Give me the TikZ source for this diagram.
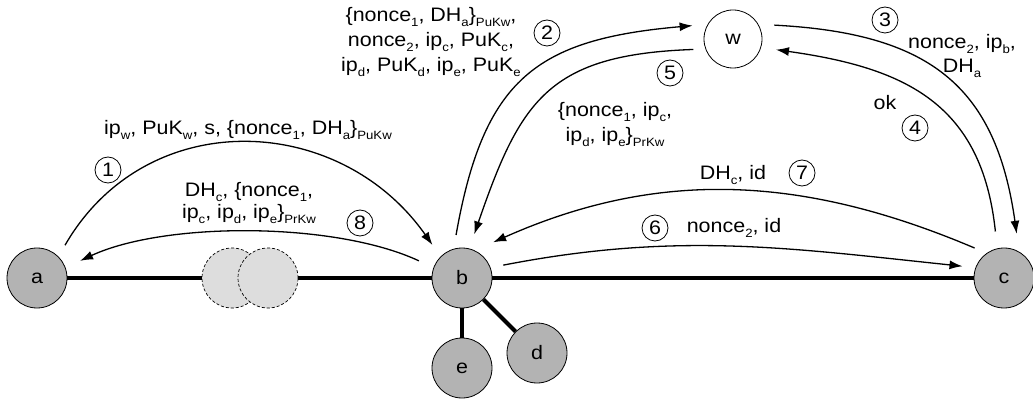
\documentclass[tikz,border=0pt]{standalone}
\usepackage{fontspec}
\setmainfont{Liberation Sans}[FakeStretch=1.1]
\usetikzlibrary{arrows.meta,backgrounds}
\definecolor{nodegray}{RGB}{179,179,179}
\definecolor{ghostgray}{RGB}{221,221,221}
\newcommand{\sbs}[1]{\raisebox{-5pt}{\fontsize{12}{12}\selectfont #1}}
\newcommand{\lines}[1]{\begin{tabular}[t]{@{}c@{}}#1\end{tabular}}
\begin{document}
\begin{tikzpicture}[x=1pt,y=1pt,
  every node/.style={font=\fontsize{19.5}{24}\selectfont},
  host/.style={circle,draw,line width=0.8pt,fill=nodegray,minimum size=60pt,inner sep=0pt},
  ghost/.style={circle,draw,dash pattern=on 3pt off 2pt,line width=0.7pt,fill=ghostgray,minimum size=60pt,inner sep=0pt},
  server/.style={circle,draw,line width=0.8pt,fill=white,minimum size=58pt,inner sep=0pt},
  num/.style={circle,draw,line width=0.8pt,minimum size=26pt,inner sep=0pt},
  lbl/.style={anchor=base,inner sep=0pt},
  link/.style={line width=4pt},
  msg/.style={line width=1.3pt,-{Latex[length=13pt,width=9pt]}},
]
\useasboundingbox (0,0) rectangle (1033,-403);
% hosts
\node[host] (a) at (37,-278) {a};
\node[ghost] (g1) at (232,-278) {};
\node[ghost] (g2) at (268,-278) {};
\node[host] (b) at (462,-278) {b};
\node[host] (c) at (1004,-278) {c};
\node[host] (d) at (537,-353) {d};
\node[host] (e) at (462,-368) {e};
\node[server] (w) at (733,-39) {w};
% links
\begin{scope}[on background layer]
\draw[link] (a) -- (c);
\draw[link] (b) -- (e);
\draw[link] (b) -- (d);
\end{scope}
% messages
\draw[msg,shorten <=13pt,shorten >=14pt] (a.45) to[out=60,in=125,looseness=1.18] (b.135);
\draw[msg,shorten <=16pt,shorten >=16pt] (b.160) to[out=155,in=25,looseness=0.76] (a.20);
\draw[msg,shorten <=14pt,shorten >=15pt] (b.106) to[out=80,in=185,looseness=1.3] (w.150);
\draw[msg,shorten <=12pt,shorten >=15pt] (w.200) to[out=182,in=71,looseness=1.3] (b.76);
\draw[msg,shorten <=16pt,shorten >=18pt] (w.30) to[out=-3,in=98,looseness=1.25] (c.60);
\draw[msg,shorten <=17pt,shorten >=15pt] (c.103) to[out=96,in=-8,looseness=1.2] (w.-17);
\draw[msg,shorten <=13pt,shorten >=20pt] (c.125) to[out=157,in=24,looseness=1] (b.65);
\draw[msg,shorten <=13pt,shorten >=13pt] (b.20) to[out=11,in=174,looseness=1] (c.160);
% labels
\node[lbl] (t1) at (248,-135) {ip\sbs{w}, PuK\sbs{w}, s, \{nonce\sbs{1}, DH\sbs{a}\}\sbs{PuKw}};
\node[num] (n1) at (108,-170) {1};
\node[lbl] (t8) at (249,-197) {\lines{DH\sbs{c}, \{nonce\sbs{1},\\[-2pt] ip\sbs{c}, ip\sbs{d}, ip\sbs{e}\}\sbs{PrKw}}};
\node[num] (n8) at (360,-223) {8};
\node[lbl] (t2) at (431,-22) {\lines{\{nonce\sbs{1}, DH\sbs{a}\}\sbs{PuKw},\\[1pt] nonce\sbs{2}, ip\sbs{c}, PuK\sbs{c},\\[1pt] ip\sbs{d}, PuK\sbs{d}, ip\sbs{e}, PuK\sbs{e}}};
\node[num] (n2) at (547,-33) {2};
\node[num] (n5) at (670,-73) {5};
\node[lbl] (t5) at (615,-117) {\lines{\{nonce\sbs{1}, ip\sbs{c},\\[1pt] ip\sbs{d}, ip\sbs{e}\}\sbs{PrKw}}};
\node[num] (n3) at (885,-20) {3};
\node[lbl] (t3) at (962,-49) {\lines{nonce\sbs{2}, ip\sbs{b},\\ DH\sbs{a}}};
\node[lbl] (t4) at (885,-110) {ok};
\node[num] (n4) at (915,-128) {4};
\node[lbl] (t7) at (733,-180) {DH\sbs{c}, id};
\node[num] (n7) at (802,-173) {7};
\node[lbl] (t6) at (734,-233) {nonce\sbs{2}, id};
\node[num] (n6) at (655,-228) {6};
\end{tikzpicture}
\end{document}
